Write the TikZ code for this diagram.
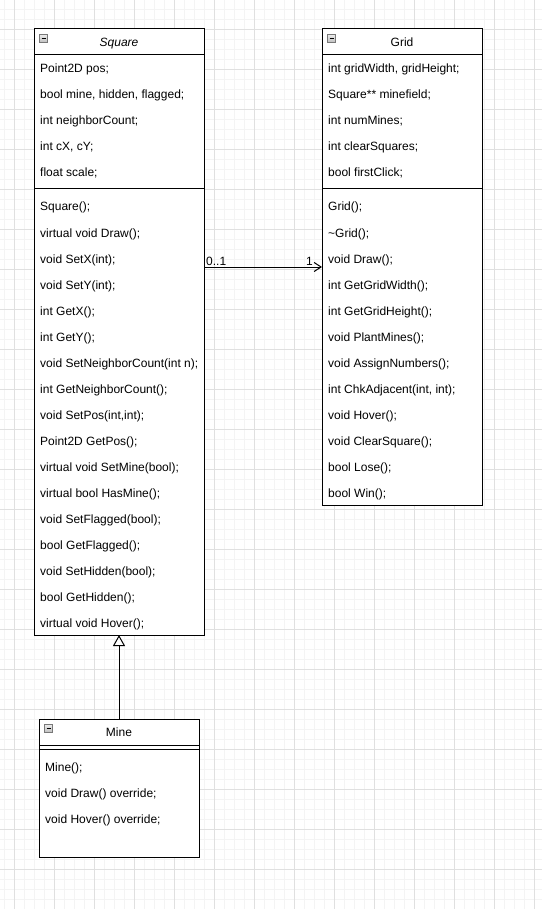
\documentclass[tikz,border=0pt]{standalone}
\usepackage{fontspec}
\setmainfont{Liberation Sans}
\usetikzlibrary{arrows.meta}
\definecolor{minorgrid}{RGB}{244,244,244}
\definecolor{majorgrid}{RGB}{224,224,224}
\definecolor{icontop}{RGB}{235,235,235}
\definecolor{iconbot}{RGB}{190,190,190}
\definecolor{iconedge}{RGB}{120,120,120}
\tikzset{
  umlfont/.style={font=\fontsize{12pt}{14pt}\selectfont},
  classbox/.style={draw=black, line width=1pt, fill=white, rectangle, anchor=north west, inner sep=0pt, outer sep=0pt},
  member/.style={anchor=base west, inner sep=0pt, umlfont, text=black},
  classtitle/.style={anchor=base, inner sep=0pt, umlfont, text=black},
  divider/.style={draw=black, line width=1pt},
  icon/.style={draw=iconedge, line width=0.6pt, top color=icontop, bottom color=iconbot},
  assoc/.style={draw=black, line width=1pt, -{Straight Barb[length=7pt,width=9pt,line width=1pt]}},
  inherit/.style={draw=black, line width=1pt, -{Triangle[open,length=11pt,width=12pt,line width=1pt]}},
  multiplicity/.style={inner sep=0pt, umlfont, text=black},
}
\begin{document}
\begin{tikzpicture}[x=1pt,y=-1pt]
\useasboundingbox (0,0) rectangle (542,909);
\fill[white] (0,0) rectangle (542,909);
% grid
\foreach \gx in {4,14,...,540} \draw[minorgrid, line width=0.8pt] (\gx,0) -- (\gx,909);
\foreach \gy in {9,19,...,909} \draw[minorgrid, line width=0.8pt] (0,\gy) -- (542,\gy);
\foreach \gx in {14,54,...,540} \draw[majorgrid, line width=0.8pt] (\gx,0) -- (\gx,909);
\foreach \gy in {29,69,...,909} \draw[majorgrid, line width=0.8pt] (0,\gy) -- (542,\gy);

% Square class
\node[classbox, minimum width=170pt, minimum height=606pt] (square) at (34,29) {};
\draw[divider] (34,55) -- (204,55);
\draw[divider] (34,189) -- (204,189);
\draw[icon] (39.5,34.5) rectangle (47.5,42.5);
\draw[black, line width=1pt] (41.5,38.5) -- (45.5,38.5);
\node[classtitle] (squaretitle) at (119,46.5) {\textit{Square}};
\foreach [count=\i] \t in {{Point2D pos;},{bool mine, hidden, flagged;},{int neighborCount;},{int cX, cY;},{float scale;}}
  \node[member] (sqattr\i) at (40,47+26*\i) {\t};
\foreach [count=\i] \t in {{Square();},{virtual void Draw();},{void SetX(int);},{void SetY(int);},{int GetX();},{int GetY();},{void SetNeighborCount(int n);},{int GetNeighborCount();},{void SetPos(int,int);},{Point2D GetPos();},{virtual void SetMine(bool);},{virtual bool HasMine();},{void SetFlagged(bool);},{bool GetFlagged();},{void SetHidden(bool);},{bool GetHidden();},{virtual void Hover();}}
  \node[member] (sqop\i) at (40,185+26*\i) {\t};

% Grid class
\node[classbox, minimum width=160pt, minimum height=476pt] (grid) at (322,29) {};
\draw[divider] (322,55) -- (482,55);
\draw[divider] (322,189) -- (482,189);
\draw[icon] (327.5,34.5) rectangle (335.5,42.5);
\draw[black, line width=1pt] (329.5,38.5) -- (333.5,38.5);
\node[classtitle] (gridtitle) at (402,46.5) {Grid};
\foreach [count=\i] \t in {{int gridWidth, gridHeight;},{Square** minefield;},{int numMines;},{int clearSquares;},{bool firstClick;}}
  \node[member] (grattr\i) at (328,47+26*\i) {\t};
\foreach [count=\i] \t in {{Grid();},{\textasciitilde Grid();},{void Draw();},{int GetGridWidth();},{int GetGridHeight();},{void PlantMines();},{void AssignNumbers();},{int ChkAdjacent(int, int);},{void Hover();},{void ClearSquare();},{bool Lose();},{bool Win();}}
  \node[member] (grop\i) at (328,185+26*\i) {\t};

% Mine class
\node[classbox, minimum width=160pt, minimum height=138pt] (mine) at (39,719) {};
\draw[divider] (39,745) -- (199,745);
\draw[divider] (39,749) -- (199,749);
\draw[icon] (44.5,724.5) rectangle (52.5,732.5);
\draw[black, line width=1pt] (46.5,728.5) -- (50.5,728.5);
\node[classtitle] (minetitle) at (119,736.5) {Mine};
\foreach [count=\i] \t in {{Mine();},{void Draw() override;},{void Hover() override;}}
  \node[member] (mineop\i) at (45,745+26*\i) {\t};

% association Square -> Grid
\coordinate (assocy) at (0,267);
\draw[assoc] (square.east |- assocy) -- (grid.west |- assocy);
\node[multiplicity, anchor=base west] (multsrc) at (206,265) {0..1};
\node[multiplicity, anchor=base east] (multdst) at (313,265) {1};

% inheritance Mine -> Square
\draw[inherit] (mine.north) -- (square.south);
\end{tikzpicture}
\end{document}
